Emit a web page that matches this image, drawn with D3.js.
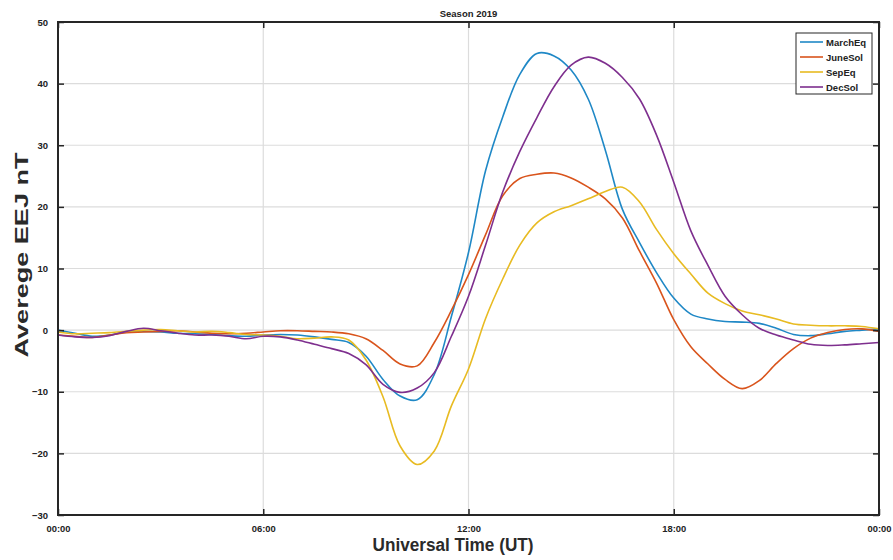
<!DOCTYPE html>
<html>
<head>
<meta charset="utf-8">
<script src="https://cdn.jsdelivr.net/npm/d3@7"></script>
<style>
  html, body { margin: 0; padding: 0; background: #fff; }
  svg { display: block; }
  text { font-family: "Liberation Sans", Arial, sans-serif; }
</style>
</head>
<body>
<svg id="chart" width="893" height="560"></svg>
<script>
// Hours of the day (UT), half-hour steps
const hours = d3.range(0, 24.01, 0.5);

// Seasonal average EEJ (nT) at each half hour
const marchEq = [0.0, -0.5, -1.0, -0.8, -0.3, -0.2, -0.3, -0.5, -0.6, -0.7, -0.9, -1.0,
  -0.8, -0.7, -0.8, -1.1, -1.5, -2.0, -4.2, -8.0, -10.7, -11.3, -7.2, 2.2,
  12.6, 25.9, 34.6, 41.5, 44.9, 44.5, 42.2, 37.5, 29.2, 19.6, 14.2, 9.3,
  5.2, 2.6, 1.8, 1.4, 1.3, 1.1, 0.3, -0.7, -0.9, -0.6, -0.2, 0.0, 0.2];

const juneSol = [-0.8, -1.0, -1.2, -0.8, -0.4, -0.3, -0.2, -0.1, -0.3, -0.5, -0.6, -0.5,
  -0.3, -0.1, -0.1, -0.2, -0.3, -0.6, -1.4, -3.3, -5.5, -5.8, -2.0, 3.2,
  9.0, 15.5, 21.8, 24.6, 25.3, 25.5, 24.7, 23.2, 21.3, 18.2, 12.8, 7.6,
  1.7, -2.7, -5.5, -8.0, -9.5, -8.2, -5.4, -3.0, -1.3, -0.4, 0.1, 0.2, -0.2];

const sepEq = [-0.3, -0.6, -0.5, -0.4, -0.2, 0.0, 0.1, -0.1, -0.3, -0.2, -0.4, -0.7,
  -0.8, -1.0, -1.4, -1.3, -1.1, -1.6, -4.8, -10.8, -18.8, -21.8, -19.6, -12.3,
  -6.3, 1.9, 8.3, 13.8, 17.4, 19.2, 20.2, 21.3, 22.5, 23.2, 20.8, 16.3,
  12.4, 9.1, 6.0, 4.3, 3.1, 2.5, 1.8, 1.0, 0.8, 0.7, 0.7, 0.6, 0.2];

const decSol = [-0.8, -1.1, -1.2, -0.9, -0.2, 0.3, -0.1, -0.5, -0.8, -0.8, -1.0, -1.4,
  -1.0, -1.1, -1.6, -2.3, -3.0, -3.8, -5.6, -8.8, -10.1, -9.4, -6.9, -1.0,
  5.5, 13.8, 22.4, 29.0, 34.5, 39.5, 43.0, 44.3, 43.3, 41.0, 37.5, 31.6,
  24.0, 16.1, 10.5, 5.5, 2.5, 0.3, -0.8, -1.6, -2.3, -2.5, -2.4, -2.2, -2.0];

const seriesNames = ["MarchEq", "JuneSol", "SepEq", "DecSol"];
const seriesValues = [marchEq, juneSol, sepEq, decSol];
const seriesColors = ["#1f88c6", "#d9541c", "#e8bb22", "#7e2f8e"];

const xTickHours = [0, 6, 12, 18, 24];
const xTickLabels = ["00:00", "06:00", "12:00", "18:00", "00:00"];
const yTicks = [-30, -20, -10, 0, 10, 20, 30, 40, 50];

const titleText = "Season 2019";
const xLabelText = "Universal Time (UT)";
const yLabelText = "Averege EEJ nT";

const svg = d3.select("#chart");
const plot = { left: 58, right: 879, top: 22, bottom: 515 };

const x = d3.scaleLinear().domain([0, 24]).range([plot.left, plot.right]);
const y = d3.scaleLinear().domain([-30, 50]).range([plot.bottom, plot.top]);

// grid
const grid = svg.append("g");
grid.selectAll("line.gy").data(yTicks.slice(1, -1)).join("line")
  .attr("x1", plot.left).attr("x2", plot.right)
  .attr("y1", d => y(d)).attr("y2", d => y(d))
  .attr("stroke", "#dcdcdc").attr("stroke-width", 1.2);
grid.selectAll("line.gx").data(xTickHours.slice(1, -1)).join("line")
  .attr("y1", plot.top).attr("y2", plot.bottom)
  .attr("x1", d => x(d)).attr("x2", d => x(d))
  .attr("stroke", "#dcdcdc").attr("stroke-width", 1.2);

// data lines
const line = d3.line().x((d, i) => x(hours[i])).y(d => y(d)).curve(d3.curveCatmullRom.alpha(0.5));
svg.append("g").selectAll("path").data(seriesValues).join("path")
  .attr("d", d => line(d))
  .attr("fill", "none")
  .attr("stroke", (d, i) => seriesColors[i])
  .attr("stroke-width", 1.6)
  .attr("stroke-linejoin", "round");

// axes (ticks inward, box on all four sides)
const tickLen = 6;
const axisColor = "#262626";
const yAxis = d3.axisLeft(y).tickValues(yTicks).tickSize(-tickLen).tickPadding(tickLen + 4);
const gy = svg.append("g").attr("transform", `translate(${plot.left},0)`).call(yAxis);
gy.select(".domain").remove();
gy.selectAll("line").attr("stroke", axisColor).attr("stroke-width", 1.5);
gy.selectAll("text").attr("font-size", 9.5).attr("font-weight", "bold").attr("fill", "#222");

const yAxisR = d3.axisRight(y).tickValues(yTicks).tickSize(-tickLen).tickFormat("");
const gyr = svg.append("g").attr("transform", `translate(${plot.right},0)`).call(yAxisR);
gyr.select(".domain").remove();
gyr.selectAll("line").attr("stroke", axisColor).attr("stroke-width", 1.5);

const xAxis = d3.axisBottom(x).tickValues(xTickHours)
  .tickFormat((d, i) => xTickLabels[i]).tickSize(-tickLen).tickPadding(tickLen + 4);
const gx = svg.append("g").attr("transform", `translate(0,${plot.bottom})`).call(xAxis);
gx.select(".domain").remove();
gx.selectAll("line").attr("stroke", axisColor).attr("stroke-width", 1.5);
gx.selectAll("text").attr("font-size", 9.5).attr("font-weight", "bold").attr("fill", "#222")
  .attr("textLength", 24).attr("lengthAdjust", "spacingAndGlyphs");

const xAxisT = d3.axisTop(x).tickValues(xTickHours).tickSize(-tickLen).tickFormat("");
const gxt = svg.append("g").attr("transform", `translate(0,${plot.top})`).call(xAxisT);
gxt.select(".domain").remove();
gxt.selectAll("line").attr("stroke", axisColor).attr("stroke-width", 1.5);

// frame
svg.append("rect")
  .attr("x", plot.left).attr("y", plot.top)
  .attr("width", plot.right - plot.left).attr("height", plot.bottom - plot.top)
  .attr("fill", "none").attr("stroke", axisColor).attr("stroke-width", 2);

// title and axis labels
svg.append("text").attr("x", (plot.left + plot.right) / 2).attr("y", 17)
  .attr("text-anchor", "middle").attr("font-size", 9.5).attr("font-weight", "bold")
  .attr("fill", "#222").text(titleText);

svg.append("text").attr("x", 453).attr("y", 551)
  .attr("text-anchor", "middle").attr("font-size", 18).attr("font-weight", "bold")
  .attr("fill", "#2a2a2a")
  .attr("textLength", 161).attr("lengthAdjust", "spacingAndGlyphs")
  .text(xLabelText);

svg.append("text")
  .attr("transform", `translate(28,${255}) rotate(-90)`)
  .attr("text-anchor", "middle").attr("font-size", 18).attr("font-weight", "bold")
  .attr("fill", "#2a2a2a")
  .attr("textLength", 205).attr("lengthAdjust", "spacingAndGlyphs")
  .text(yLabelText);

// legend
const legend = svg.append("g");
legend.append("rect").attr("x", 796).attr("y", 33).attr("width", 76).attr("height", 61)
  .attr("fill", "#fff").attr("stroke", axisColor).attr("stroke-width", 1);
const rows = legend.selectAll("g.row").data(seriesNames).join("g")
  .attr("transform", (d, i) => `translate(0,${42 + i * 15})`);
rows.append("line").attr("x1", 800).attr("x2", 823).attr("y1", 0).attr("y2", 0)
  .attr("stroke", (d, i) => seriesColors[i]).attr("stroke-width", 1.6);
rows.append("text").attr("x", 826).attr("y", 3.5)
  .attr("font-size", 9.5).attr("font-weight", "bold").attr("fill", "#222")
  .text(d => d);
</script>
</body>
</html>
